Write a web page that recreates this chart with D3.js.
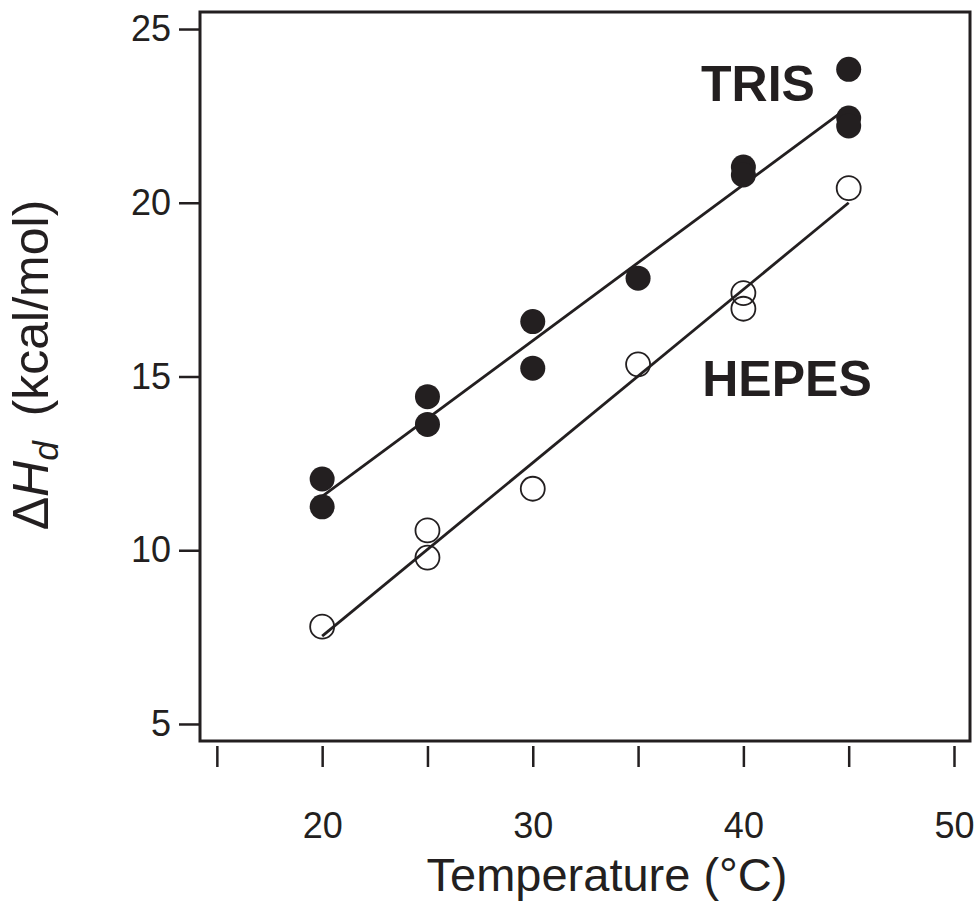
<!DOCTYPE html>
<html>
<head>
<meta charset="utf-8">
<script src="https://cdn.jsdelivr.net/npm/d3@7"></script>
<style>
  html, body { margin: 0; padding: 0; background: #fff; }
  svg { display: block; }
  text { font-family: "Liberation Sans", Arial, Helvetica, sans-serif; fill: #231f20; }
</style>
</head>
<body>
<script>
// Temperature (°C) of each measurement
const trisTemp  = [20, 20, 25, 25, 30, 30, 35, 40, 40, 45, 45, 45];
const trisDH    = [12.05, 11.25, 14.42, 13.62, 16.58, 15.24, 17.83, 21.03, 20.8, 23.84, 22.44, 22.21];
const hepesTemp = [20, 25, 25, 30, 35, 40, 40, 45];
const hepesDH   = [7.8, 10.57, 9.79, 11.77, 15.35, 17.4, 16.95, 20.42];

// Linear fits drawn across the measured range
const trisFitT  = [20, 45];
const trisFitDH = [11.55, 22.76];
const hepesFitT  = [20, 45];
const hepesFitDH = [7.53, 20.0];

const xTicks = [15, 20, 25, 30, 35, 40, 45, 50];
const xTickLabels = ["", "20", "", "30", "", "40", "", "50"];
const yTicks = [5, 10, 15, 20, 25];

const W = 975, H = 903;
const ink = "#231f20";

const svg = d3.select("body").append("svg").attr("width", W).attr("height", H);

const x = d3.scaleLinear().domain([14.2, 50.76]).range([200, 970]);
const y = d3.scaleLinear().domain([4.51, 25.49]).range([741, 12]);

// y axis (ticks attached to the frame)
const yAxis = svg.append("g")
  .attr("transform", `translate(${x.range()[0]},0)`)
  .call(d3.axisLeft(y).tickValues(yTicks).tickSize(21).tickPadding(8).tickFormat(d3.format("d")));
yAxis.select(".domain").remove();
yAxis.selectAll(".tick line").attr("stroke", ink).attr("stroke-width", 2.5);
yAxis.selectAll(".tick text").attr("font-size", 36).attr("fill", ink)
  .attr("font-family", "Liberation Sans, Arial, sans-serif");

// x axis (ticks set slightly below the frame)
const xAxis = svg.append("g")
  .attr("transform", `translate(0,${y.range()[0] + 5})`)
  .call(d3.axisBottom(x).tickValues(xTicks).tickSize(21).tickPadding(45)
    .tickFormat((d, i) => xTickLabels[i]));
xAxis.select(".domain").remove();
xAxis.selectAll(".tick line").attr("stroke", ink).attr("stroke-width", 2.5);
xAxis.selectAll(".tick text").attr("font-size", 36).attr("fill", ink)
  .attr("font-family", "Liberation Sans, Arial, sans-serif");

// plot frame
svg.append("rect")
  .attr("x", x.range()[0]).attr("y", y.range()[1])
  .attr("width", x.range()[1] - x.range()[0])
  .attr("height", y.range()[0] - y.range()[1])
  .attr("fill", "none").attr("stroke", ink).attr("stroke-width", 3);

// fit lines
const line = d3.line().x(d => x(d[0])).y(d => y(d[1]));
svg.append("path")
  .attr("d", line(d3.zip(trisFitT, trisFitDH)))
  .attr("stroke", ink).attr("stroke-width", 2.8).attr("fill", "none");
svg.append("path")
  .attr("d", line(d3.zip(hepesFitT, hepesFitDH)))
  .attr("stroke", ink).attr("stroke-width", 2.8).attr("fill", "none");

// TRIS: filled circles
svg.append("g").selectAll("circle")
  .data(d3.zip(trisTemp, trisDH))
  .join("circle")
  .attr("cx", d => x(d[0])).attr("cy", d => y(d[1]))
  .attr("r", 12.5).attr("fill", ink);

// HEPES: open circles
svg.append("g").selectAll("circle")
  .data(d3.zip(hepesTemp, hepesDH))
  .join("circle")
  .attr("cx", d => x(d[0])).attr("cy", d => y(d[1]))
  .attr("r", 12).attr("fill", "none").attr("stroke", ink).attr("stroke-width", 1.8);

// series labels
svg.append("text").attr("x", 758).attr("y", 101)
  .attr("text-anchor", "middle").attr("font-size", 50).attr("font-weight", "bold")
  .text("TRIS");
svg.append("text").attr("x", 787).attr("y", 396)
  .attr("text-anchor", "middle").attr("font-size", 50).attr("font-weight", "bold")
  .text("HEPES");

// axis titles
svg.append("text").attr("x", 607).attr("y", 891)
  .attr("text-anchor", "middle").attr("font-size", 47)
  .text("Temperature (°C)");

const yt = svg.append("text")
  .attr("transform", "translate(48,365) rotate(-90)")
  .attr("text-anchor", "middle").attr("font-size", 50);
yt.append("tspan").text("Δ");
yt.append("tspan").attr("font-style", "italic").text("H");
yt.append("tspan").attr("font-style", "italic").attr("font-size", 35).attr("dy", 10).text("d");
yt.append("tspan").attr("dy", -10).text("\u2002(kcal/mol)");
</script>
</body>
</html>
